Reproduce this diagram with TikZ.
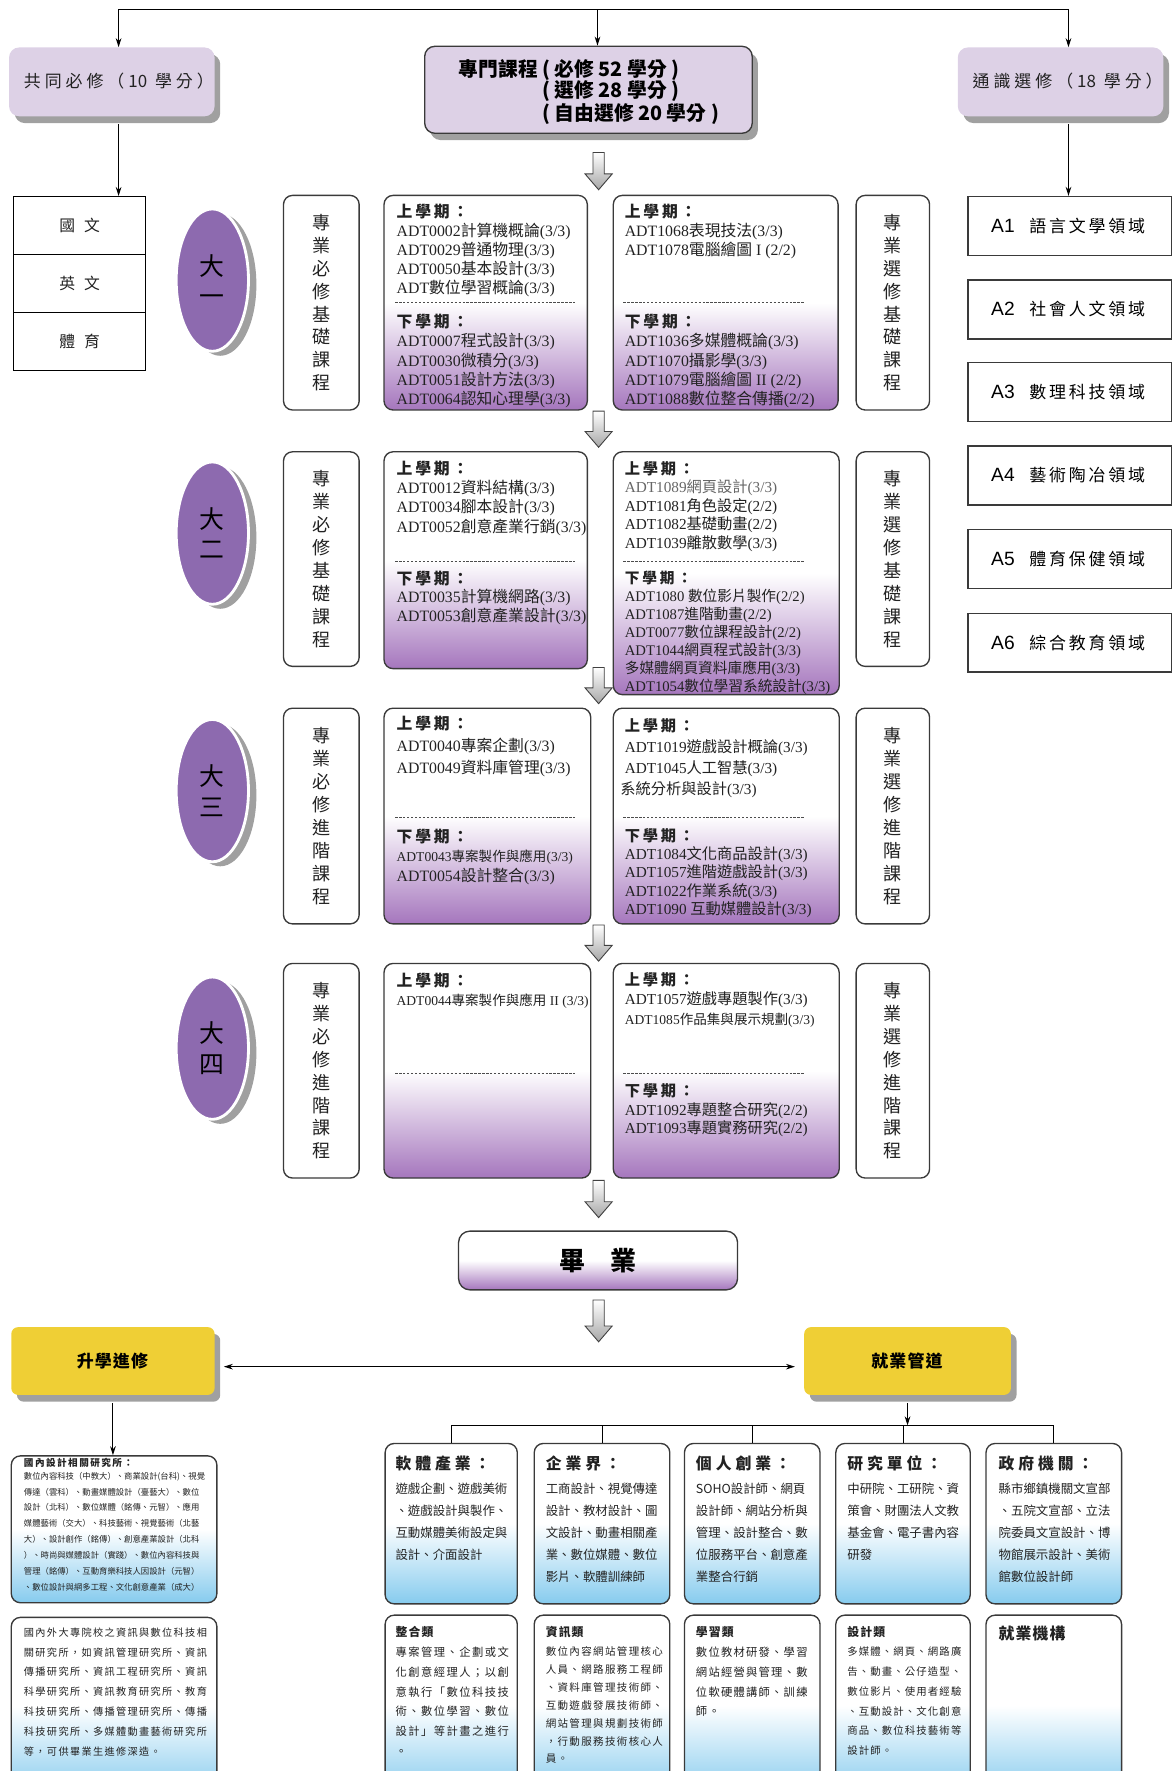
\documentclass[tikz,border=0pt]{standalone}
\usepackage{fontspec}
\setmainfont{Noto Sans CJK TC}
\newfontfamily\lat{Liberation Serif}
\newfontfamily\sns{Liberation Sans}
\usetikzlibrary{arrows.meta,shapes.geometric,shadows}
\definecolor{lav}{HTML}{DDD1E6}
\definecolor{shd}{HTML}{A0A0A0}
\definecolor{pbot}{HTML}{A576BD}
\definecolor{ell}{HTML}{8D6AAF}
\definecolor{yel}{HTML}{EFCF35}
\definecolor{bbot}{HTML}{86CBEE}
\definecolor{bd}{HTML}{3A3A3A}
\definecolor{txt}{HTML}{222222}
\def\lskd{1pt}
\def\lsend{\lsend}
\def\lsloop#1{\ifx#1\lsend\else#1\kern\lsk\relax\expandafter\lsloop\fi}
\newcommand\ls[2][\lskd]{\def\lsk{#1}\lsloop#2\lsend}
\newcommand\crs[3]{{\lat#1}#2{\lat#3}}
\newcommand\sem[1]{{\bfseries\ls[2.5pt]{#1}}}
\newcommand\bx[7]{\node[#6, minimum width={(#4)-(#2)}, minimum height={(#5)-(#3)}] (#1) at ({((#2)+(#4))/2},{((#3)+(#5))/2}) {#7};}
\newcommand\harrow[3]{\draw[harr] ({#1-5},#2) -- ({#1+5},#2) -- ({#1+5},{#3-14}) -- ({#1+12},{#3-14}) -- (#1,#3) -- ({#1-12},{#3-14}) -- ({#1-5},{#3-14}) -- cycle;}
\begin{document}
\begin{tikzpicture}[x=1pt,y=-1pt,
 arr/.style={-{Stealth[length=8pt,width=5pt]}, line width=0.9pt, black},
 harr/.style={draw=black!75, line width=0.8pt, top color=white, bottom color=black!35},
 shad/.style={drop shadow={shadow xshift=5pt, shadow yshift=-6pt, fill=shd, opacity=1}},
 topbox/.style={rounded corners=9pt, fill=lav, shad, inner sep=0pt, font=\fontsize{15}{18}\selectfont},
 ttxt/.style={inner sep=0pt, font=\fontsize{15}{18}\selectfont, text=txt},
 ptxt/.style={inner sep=0pt, anchor=west, font=\fontsize{17.5}{20}\selectfont\bfseries},
 tcell/.style={draw=black, line width=0.9pt, inner sep=0pt, font=\fontsize{14}{16}\selectfont, text=txt},
 yr/.style={ellipse, fill=ell, draw=white, line width=2.5pt, minimum width=64pt, minimum height=126pt, inner sep=0pt, align=center, font=\fontsize{22}{27}\selectfont, drop shadow={shadow xshift=7pt, shadow yshift=-4pt, fill=shd, opacity=1}},
 lbox/.style={draw=bd, line width=1.2pt, rounded corners=8pt, fill=white, inner sep=0pt, align=center, font=\fontsize{16}{20.3}\selectfont, text=txt},
 cbox/.style={draw=bd, line width=1.2pt, rounded corners=8pt, top color=white, bottom color=pbot, middle color=white, inner sep=0pt},
 ct/.style={anchor=north west, inner sep=0pt, align=left, text=txt, font=\fontsize{14}{17}\selectfont},
 dsh/.style={draw=black!70, line width=0.8pt, dash pattern=on 2pt off 1.5pt},
 abox/.style={draw=bd, line width=1.2pt, fill=white, inner sep=0pt},
 ybox/.style={fill=yel, rounded corners=6pt, shad, inner sep=0pt, font=\fontsize{15}{18}\selectfont\bfseries},
 gbox/.style={draw=bd, line width=1.2pt, rounded corners=8pt, top color=white, bottom color=bbot, middle color=white, inner sep=0pt},
 bt/.style={anchor=north west, inner sep=0pt, align=left, text=txt}
]
\useasboundingbox (0,0) rectangle (1040,1568);
\clip (0,0) rectangle (1040,1568);

% ---------- top ----------
\bx{common}{8}{42}{190}{103}{topbox}{}
\node[ttxt] (commontxt) at (107,72) {\ls[3.5pt]{共同必修（}10\hspace{7pt}\ls[3.5pt]{學分）}};
\bx{prof}{376}{41}{666}{118}{topbox, draw=bd, line width=1.2pt}{}
\node[ptxt] (p1) at (406,62) {專門課程 ( 必修 52 學分 )};
\node[ptxt] (p2) at (480,81) {( 選修 28 學分 )};
\node[ptxt] (p3) at (480,101) {( 自由選修 20 學分 )};
\bx{gen}{848}{42}{1030}{103}{topbox}{}
\node[ttxt] (gentxt) at (947,72) {\ls[3.5pt]{通識選修（}18\hspace{7pt}\ls[3.5pt]{學分）}};

\coordinate (tl) at (105,8);
\coordinate (tc) at (529,8);
\coordinate (tr) at (946,8);
\draw[line width=0.9pt] (tl) -- (tr);
\draw[arr] (tl) -- (tl |- common.north);
\draw[arr] (tc) -- (tc |- prof.north);
\draw[arr] (tr) -- (tr |- gen.north);

% ---------- left table ----------
\bx{t1}{12}{174}{129}{225}{tcell}{國\hspace{8pt}文}
\bx{t2}{12}{225}{129}{277}{tcell}{英\hspace{8pt}文}
\bx{t3}{12}{277}{129}{328}{tcell}{體\hspace{8pt}育}
\draw[arr] ([yshift=-7pt]common.south -| tl) -- (t1.north -| tl);

% ---------- right A boxes ----------
\bx{A1}{857}{174}{1037}{226}{abox}{{\sns\fontsize{17}{20}\selectfont A1}\hspace{13pt}{\fontsize{15}{18}\selectfont\ls[2.5pt]{語言文學領域}}}
\bx{A2}{857}{248}{1037}{300}{abox}{{\sns\fontsize{17}{20}\selectfont A2}\hspace{13pt}{\fontsize{15}{18}\selectfont\ls[2.5pt]{社會人文領域}}}
\bx{A3}{857}{321}{1037}{373}{abox}{{\sns\fontsize{17}{20}\selectfont A3}\hspace{13pt}{\fontsize{15}{18}\selectfont\ls[2.5pt]{數理科技領域}}}
\bx{A4}{857}{395}{1037}{447}{abox}{{\sns\fontsize{17}{20}\selectfont A4}\hspace{13pt}{\fontsize{15}{18}\selectfont\ls[2.5pt]{藝術陶冶領域}}}
\bx{A5}{857}{469}{1037}{521}{abox}{{\sns\fontsize{17}{20}\selectfont A5}\hspace{13pt}{\fontsize{15}{18}\selectfont\ls[2.5pt]{體育保健領域}}}
\bx{A6}{857}{543}{1037}{595}{abox}{{\sns\fontsize{17}{20}\selectfont A6}\hspace{13pt}{\fontsize{15}{18}\selectfont\ls[2.5pt]{綜合教育領域}}}
\draw[arr] ([yshift=-7pt]gen.south -| tr) -- (A1.north -| tr);

% ---------- year ellipses ----------
\node[yr] (y1) at (188,248) {大\\一};
\node[yr] (y2) at (188,472) {大\\二};
\node[yr] (y3) at (188,700) {大\\三};
\node[yr] (y4) at (188,928) {大\\四};

% ---------- label boxes ----------
\bx{L1}{251}{173}{318}{363}{lbox}{專\\業\\必\\修\\基\\礎\\課\\程}
\bx{R1}{758}{173}{823}{363}{lbox}{專\\業\\選\\修\\基\\礎\\課\\程}
\bx{L2}{251}{400}{318}{590}{lbox}{專\\業\\必\\修\\基\\礎\\課\\程}
\bx{R2}{758}{400}{823}{590}{lbox}{專\\業\\選\\修\\基\\礎\\課\\程}
\bx{L3}{251}{627}{318}{818}{lbox}{專\\業\\必\\修\\進\\階\\課\\程}
\bx{R3}{758}{627}{823}{818}{lbox}{專\\業\\選\\修\\進\\階\\課\\程}
\bx{L4}{251}{853}{318}{1043}{lbox}{專\\業\\必\\修\\進\\階\\課\\程}
\bx{R4}{758}{853}{823}{1043}{lbox}{專\\業\\選\\修\\進\\階\\課\\程}

% ---------- course boxes ----------
\bx{C1L}{340}{173}{520}{363}{cbox}{}
\bx{C1R}{543}{173}{742}{363}{cbox}{}
\bx{C2L}{340}{400}{520}{592}{cbox}{}
\bx{C2R}{543}{400}{743}{615}{cbox}{}
\bx{C3L}{340}{627}{523}{818}{cbox}{}
\bx{C3R}{543}{627}{743}{818}{cbox}{}
\bx{C4L}{340}{853}{523}{1043}{cbox}{}
\bx{C4R}{543}{853}{743}{1043}{cbox}{}

% year 1
\node[ct] (c1lu) at (351,180) {\sem{上學期：}\\\crs{ADT0002}{計算機概論}{(3/3)}\\\crs{ADT0029}{普通物理}{(3/3)}\\\crs{ADT0050}{基本設計}{(3/3)}\\\crs{ADT}{數位學習概論}{(3/3)}};
\draw[dsh] (350,268) -- (510,268);
\node[ct] (c1ld) at (351,278) {\sem{下學期：}\\\crs{ADT0007}{程式設計}{(3/3)}\\\crs{ADT0030}{微積分}{(3/3)}\\\crs{ADT0051}{設計方法}{(3/3)}\\\crs{ADT0064}{認知心理學}{(3/3)}};
\node[ct] (c1ru) at (553,180) {\sem{上學期：}\\\crs{ADT1068}{表現技法}{(3/3)}\\\crs{ADT1078}{電腦繪圖}{ I (2/2)}};
\draw[dsh] (552,268) -- (712,268);
\node[ct] (c1rd) at (553,278) {\sem{下學期：}\\\crs{ADT1036}{多媒體概論}{(3/3)}\\\crs{ADT1070}{攝影學}{(3/3)}\\\crs{ADT1079}{電腦繪圖}{ II (2/2)}\\\crs{ADT1088}{數位整合傳播}{(2/2)}};

% year 2
\node[ct] (c2lu) at (351,408) {\sem{上學期：}\\\crs{ADT0012}{資料結構}{(3/3)}\\\crs{ADT0034}{腳本設計}{(3/3)}\\\crs{ADT0052}{創意產業行銷}{(3/3)}};
\draw[dsh] (350,497) -- (510,497);
\node[ct, font=\fontsize{14}{16.5}\selectfont] (c2ld) at (351,505) {\sem{下學期：}\\\crs{ADT0035}{計算機網路}{(3/3)}\\\crs{ADT0053}{創意產業設計}{(3/3)}};
\node[ct, font=\fontsize{13.5}{16.5}\selectfont] (c2ru) at (553,408) {\sem{上學期：}\\{\color{black!60}\crs{ADT1089}{網頁設計}{(3/3)}}\\\crs{ADT1081}{角色設定}{(2/2)}\\\crs{ADT1082}{基礎動畫}{(2/2)}\\\crs{ADT1039}{離散數學}{(3/3)}};
\draw[dsh] (552,497) -- (712,497);
\node[ct, font=\fontsize{13}{16}\selectfont] (c2rd) at (553,505) {\sem{下學期：}\\\crs{ADT1080 }{數位影片製作}{(2/2)}\\\crs{ADT1087}{進階動畫}{(2/2)}\\\crs{ADT0077}{數位課程設計}{(2/2)}\\\crs{ADT1044}{網頁程式設計}{(3/3)}\\\crs{}{多媒體網頁資料庫應用}{(3/3)}\\\crs{ADT1054}{數位學習系統設計}{(3/3)}};

% year 3
\node[ct, font=\fontsize{14}{19.5}\selectfont] (c3lu) at (351,634) {\sem{上學期：}\\\crs{ADT0040}{專案企劃}{(3/3)}\\\crs{ADT0049}{資料庫管理}{(3/3)}};
\draw[dsh] (350,724) -- (510,724);
\node[ct] (c3ld) at (351,734) {\sem{下學期：}\\{\fontsize{12}{17}\selectfont\crs{ADT0043}{專案製作與應用}{(3/3)}}\\\crs{ADT0054}{設計整合}{(3/3)}};
\node[ct, font=\fontsize{13.5}{18.5}\selectfont] (c3ru) at (553,636) {\sem{上學期：}\\\crs{ADT1019}{遊戲設計概論}{(3/3)}\\\crs{ADT1045}{人工智慧}{(3/3)}\\\hspace{-4pt}\crs{}{系統分析與設計}{(3/3)}};
\draw[dsh] (552,724) -- (712,724);
\node[ct, font=\fontsize{13.5}{16.3}\selectfont] (c3rd) at (553,733) {\sem{下學期：}\\\crs{ADT1084}{文化商品設計}{(3/3)}\\\crs{ADT1057}{進階遊戲設計}{(3/3)}\\\crs{ADT1022}{作業系統}{(3/3)}\\\crs{ADT1090 }{互動媒體設計}{(3/3)}};

% year 4
\node[ct] (c4lu) at (351,861) {\sem{上學期：}\\{\fontsize{12}{17}\selectfont\crs{ADT0044}{專案製作與應用}{ II (3/3)}}};
\draw[dsh] (350,950) -- (510,950);
\node[ct, font=\fontsize{13.5}{17}\selectfont] (c4ru) at (553,861) {\sem{上學期：}\\\crs{ADT1057}{遊戲專題製作}{(3/3)}\\{\fontsize{12}{17}\selectfont\crs{ADT1085}{作品集與展示規劃}{(3/3)}}};
\draw[dsh] (552,950) -- (712,950);
\node[ct, font=\fontsize{13.5}{16.5}\selectfont] (c4rd) at (553,959) {\sem{下學期：}\\\crs{ADT1092}{專題整合研究}{(2/2)}\\\crs{ADT1093}{專題實務研究}{(2/2)}};

% hollow arrows
\harrow{530}{135}{168}
\harrow{530}{364}{396}
\harrow{530}{591}{623}
\harrow{530}{819}{851}
\harrow{530}{1045}{1078}
\harrow{530}{1151}{1188}

% ---------- graduation ----------
\bx{grad}{406}{1090}{653}{1142}{cbox, rounded corners=10pt, font=\fontsize{23}{26}\selectfont\bfseries}{畢\hspace{22pt}業}

% ---------- yellow boxes ----------
\bx{adv}{10}{1175}{190}{1235}{ybox}{\ls[1pt]{升學進修}}
\bx{job}{712}{1175}{895}{1235}{ybox}{\ls[1pt]{就業管道}}
\draw[{Stealth[length=8pt,width=5pt]}-{Stealth[length=8pt,width=5pt]}, line width=0.9pt] ([xshift=8pt,yshift=-5pt]adv.east) -- ([xshift=-8pt,yshift=-5pt]job.west);

% ---------- further study ----------
\bx{G1}{10}{1289}{192}{1419}{gbox}{}
\bx{G2}{10}{1432}{192}{1590}{gbox}{}
\draw[arr] ([yshift=-7pt]adv.south) -- (adv.south |- G1.north);
\node[bt, font=\fontsize{8.5}{10}\selectfont\bfseries] (g1h) at (21,1291) {\ls[1.3pt]{國內設計相關研究所：}};
\node[bt, font=\fontsize{7.4}{14.1}\selectfont] (g1b) at (21,1303) {數位內容科技（中教大）、商業設計(台科)、視覺\\傳達（雲科）、動畫媒體設計（臺藝大）、數位\\設計（北科）、數位媒體（銘傳、元智）、應用\\媒體藝術（交大）、科技藝術、視覺藝術（北藝\\大）、設計創作（銘傳）、創意產業設計（北科\\）、時尚與媒體設計（實踐）、數位內容科技與\\管理（銘傳）、互動育樂科技人因設計（元智）\\、數位設計與網多工程、文化創意產業（成大）};
\node[bt, font=\fontsize{9}{17.5}\selectfont\def\lskd{1.2pt}] (g2b) at (21,1441) {\ls{國內外大專院校之資訊與數位科技相}\\\ls{關研究所，如資訊管理研究所、資訊}\\\ls{傳播研究所、資訊工程研究所、資訊}\\\ls{科學研究所、資訊教育研究所、教育}\\\ls{科技研究所、傳播管理研究所、傳播}\\\ls{科技研究所、多媒體動畫藝術研究所}\\\ls{等，可供畢業生進修深造。}};

% ---------- employment ----------
\bx{E1}{341}{1278}{458}{1420}{gbox}{}
\bx{E2}{473}{1278}{593}{1420}{gbox}{}
\bx{E3}{606}{1278}{726}{1420}{gbox}{}
\bx{E4}{740}{1278}{859}{1420}{gbox}{}
\bx{E5}{873}{1278}{993}{1420}{gbox}{}
\bx{F1}{341}{1430}{458}{1590}{gbox}{}
\bx{F2}{473}{1430}{593}{1590}{gbox}{}
\bx{F3}{606}{1430}{726}{1590}{gbox}{}
\bx{F4}{740}{1430}{859}{1590}{gbox}{}
\bx{F5}{873}{1430}{993}{1590}{gbox}{}
\coordinate (bar) at (803.5,1262);
\draw[arr] ([yshift=-7pt]job.south) -- (bar);
\draw[line width=0.9pt] (E1.north |- bar) -- (E5.north |- bar);
\foreach \e in {E1,E2,E3,E4,E5} \draw[line width=0.9pt] (\e.north |- bar) -- (\e.north);

\tikzset{eh/.style={bt, font=\fontsize{14}{16}\selectfont\bfseries}, eb/.style={bt, font=\fontsize{11}{19.5}\selectfont}}
\node[eh] (e1h) at (350,1289) {\ls[3.5pt]{軟體產業：}};
\node[eb] (e1b) at (350,1313) {遊戲企劃、遊戲美術\\、遊戲設計與製作、\\互動媒體美術設定與\\設計、介面設計};
\node[eh] (e2h) at (483,1289) {\ls[3.5pt]{企業界：}};
\node[eb] (e2b) at (483,1313) {工商設計、視覺傳達\\設計、教材設計、圖\\文設計、動畫相關產\\業、數位媒體、數位\\影片、軟體訓練師};
\node[eh] (e3h) at (616,1289) {\ls[3.5pt]{個人創業：}};
\node[eb] (e3b) at (616,1313) {SOHO設計師、網頁\\設計師、網站分析與\\管理、設計整合、數\\位服務平台、創意產\\業整合行銷};
\node[eh] (e4h) at (750,1289) {\ls[3.5pt]{研究單位：}};
\node[eb] (e4b) at (750,1313) {中研院、工研院、資\\策會、財團法人文教\\基金會、電子書內容\\研發};
\node[eh] (e5h) at (884,1289) {\ls[3.5pt]{政府機關：}};
\node[eb] (e5b) at (884,1313) {縣市鄉鎮機關文宣部\\、五院文宣部、立法\\院委員文宣設計、博\\物館展示設計、美術\\館數位設計師};

\tikzset{fh/.style={bt, font=\fontsize{10.5}{12}\selectfont\bfseries}}
\node[fh] (f1h) at (350,1440) {\ls[1pt]{整合類}};
\node[bt, font=\fontsize{10}{17.5}\selectfont\def\lskd{1.3pt}] (f1b) at (350,1458) {\ls{專案管理、企劃或文}\\\ls{化創意經理人；以創}\\\ls{意執行「數位科技技}\\\ls{術、數位學習、數位}\\\ls{設計」等計畫之進行}\\\ls{。}};
\node[fh] (f2h) at (483,1440) {\ls[1pt]{資訊類}};
\node[bt, font=\fontsize{9.3}{15.8}\selectfont\def\lskd{1.2pt}] (f2b) at (483,1458) {\ls{數位內容網站管理核心}\\\ls{人員、網路服務工程師}\\\ls{、資料庫管理技術師、}\\\ls{互動遊戲發展技術師、}\\\ls{網站管理與規劃技術師}\\\ls{，行動服務技術核心人}\\\ls{員。}};
\node[fh] (f3h) at (616,1440) {\ls[1pt]{學習類}};
\node[bt, font=\fontsize{10}{17.5}\selectfont\def\lskd{1.1pt}] (f3b) at (616,1458) {\ls{數位教材研發、學習}\\\ls{網站經營與管理、數}\\\ls{位軟硬體講師、訓練}\\\ls{師。}};
\node[fh] (f4h) at (750,1440) {\ls[1pt]{設計類}};
\node[bt, font=\fontsize{9.2}{17.5}\selectfont\def\lskd{1pt}] (f4b) at (750,1458) {\ls{多媒體、網頁、網路廣}\\\ls{告、動畫、公仔造型、}\\\ls{數位影片、使用者經驗}\\\ls{、互動設計、文化創意}\\\ls{商品、數位科技藝術等}\\\ls{設計師。}};
\node[bt, font=\fontsize{14}{16}\selectfont\bfseries] (f5h) at (884,1439) {\ls[1pt]{就業機構}};
\end{tikzpicture}
\end{document}
